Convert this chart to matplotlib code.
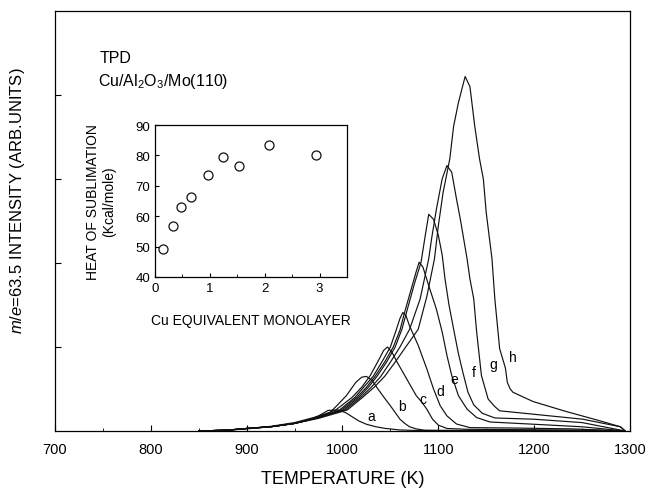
import numpy as np
import matplotlib
matplotlib.use("Agg")
import matplotlib.pyplot as plt

plt.rcParams['font.family'] = ['Liberation Sans', 'DejaVu Sans']
plt.rcParams['mathtext.fontset'] = 'custom'
plt.rcParams['mathtext.rm'] = 'Liberation Sans'
plt.rcParams['mathtext.it'] = 'Liberation Sans:italic'

# TPD spectra, m/e = 63.5 (T in K, intensity arb.)
T_a = [850, 880, 900, 925, 950, 965, 975, 985, 995, 1003, 1010, 1017, 1025, 1035, 1045, 1060, 1080, 1120, 1200, 1295]
I_a = [0.0, 0.01, 0.025, 0.05, 0.09, 0.13, 0.18, 0.245, 0.25, 0.22, 0.17, 0.12, 0.08, 0.05, 0.03, 0.012, 0.005, 0.003, 0.002, 0.0]

T_b = [850, 880, 900, 925, 950, 970, 987, 994, 1004, 1014, 1020, 1025, 1031, 1037, 1044, 1050, 1055, 1060, 1065,
       1070, 1077, 1085, 1100, 1150, 1220, 1295]
I_b = [0.0, 0.01, 0.03, 0.055, 0.1, 0.16, 0.22, 0.30, 0.42, 0.58, 0.64, 0.65, 0.6, 0.5, 0.39, 0.30, 0.22, 0.14, 0.09,
       0.05, 0.025, 0.01, 0.008, 0.006, 0.004, 0.0]

T_c = [850, 880, 900, 925, 950, 975, 993, 1010, 1020, 1029, 1038, 1043, 1047, 1052, 1057, 1063, 1069, 1077, 1083,
       1088, 1094, 1100, 1109, 1130, 1200, 1260, 1295]
I_c = [0.0, 0.01, 0.03, 0.05, 0.09, 0.17, 0.25, 0.4, 0.52, 0.66, 0.85, 0.96, 1.0, 0.93, 0.82, 0.7, 0.58, 0.42, 0.34,
       0.26, 0.14, 0.07, 0.03, 0.02, 0.015, 0.01, 0.0]

T_d = [850, 880, 900, 925, 950, 975, 997, 1013, 1022, 1032, 1041, 1050, 1056, 1060, 1063, 1066, 1070, 1079, 1088,
       1095, 1102, 1109, 1119, 1133, 1180, 1240, 1295]
I_d = [0.0, 0.01, 0.03, 0.05, 0.09, 0.16, 0.25, 0.4, 0.52, 0.65, 0.82, 1.0, 1.2, 1.34, 1.41, 1.38, 1.25, 1.02, 0.74,
       0.5, 0.3, 0.18, 0.083, 0.04, 0.035, 0.025, 0.0]

T_e = [850, 880, 900, 925, 950, 975, 999, 1015, 1025, 1034, 1044, 1053, 1060, 1065, 1072, 1077, 1080, 1084, 1090,
       1098, 1104, 1109, 1114, 1121, 1130, 1140, 1154, 1200, 1250, 1295]
I_e = [0.0, 0.01, 0.03, 0.05, 0.09, 0.16, 0.25, 0.4, 0.52, 0.65, 0.82, 1.0, 1.2, 1.42, 1.7, 1.9, 2.01, 1.95, 1.73,
       1.45, 1.18, 0.9, 0.66, 0.42, 0.26, 0.16, 0.107, 0.08, 0.05, 0.0]

T_f = [850, 880, 900, 925, 950, 975, 1001, 1017, 1027, 1036, 1046, 1055, 1062, 1067, 1075, 1082, 1086, 1090, 1095,
       1100, 1104, 1107, 1111, 1116, 1121, 1126, 1131, 1137, 1146, 1159, 1200, 1250, 1295]
I_f = [0.0, 0.01, 0.03, 0.05, 0.09, 0.16, 0.25, 0.4, 0.52, 0.65, 0.82, 1.0, 1.21, 1.42, 1.75, 2.01, 2.3, 2.58, 2.52,
       2.33, 2.1, 1.81, 1.51, 1.21, 0.92, 0.68, 0.46, 0.31, 0.21, 0.155, 0.14, 0.1, 0.0]

T_g = [850, 880, 900, 925, 950, 975, 1003, 1019, 1030, 1040, 1050, 1060, 1070, 1081, 1090, 1093, 1098, 1104, 1109,
       1114, 1119, 1123, 1130, 1133, 1137, 1140, 1145, 1152, 1159, 1164, 1199, 1251, 1290, 1295]
I_g = [0.0, 0.01, 0.03, 0.05, 0.09, 0.16, 0.25, 0.4, 0.52, 0.65, 0.82, 1.0, 1.21, 1.57, 2.05, 2.29, 2.64, 3.0, 3.16,
       3.08, 2.76, 2.52, 2.05, 1.81, 1.57, 1.18, 0.66, 0.38, 0.29, 0.24, 0.2, 0.14, 0.05, 0.0]

T_h = [850, 880, 900, 925, 950, 975, 1005, 1021, 1033, 1044, 1055, 1066, 1079, 1088, 1096, 1100, 1105, 1112, 1116,
       1121, 1128, 1133, 1138, 1143, 1147, 1150, 1156, 1159, 1164, 1170, 1172, 1175, 1178, 1199, 1234, 1269, 1290, 1295]
I_h = [0.0, 0.01, 0.03, 0.05, 0.09, 0.15, 0.25, 0.4, 0.52, 0.65, 0.82, 1.0, 1.21, 1.6, 2.05, 2.44, 2.84, 3.24, 3.63,
       3.91, 4.22, 4.1, 3.63, 3.24, 3.0, 2.6, 2.05, 1.57, 0.98, 0.75, 0.58, 0.5, 0.46, 0.35, 0.23, 0.12, 0.05, 0.0]

curve_T = [T_a, T_b, T_c, T_d, T_e, T_f, T_g, T_h]
curve_I = [I_a, I_b, I_c, I_d, I_e, I_f, I_g, I_h]
curve_names = ['a', 'b', 'c', 'd', 'e', 'f', 'g', 'h']
label_T = [1030, 1062, 1084, 1102, 1117, 1137, 1157, 1178]
label_I = [0.18, 0.30, 0.38, 0.48, 0.62, 0.70, 0.80, 0.88]

# inset: heat of sublimation vs coverage
cov = [0.15, 0.32, 0.48, 0.65, 0.97, 1.24, 1.53, 2.08, 2.93]
heat = [49.2, 56.9, 62.9, 66.2, 73.6, 79.4, 76.6, 83.4, 80.1]

fig = plt.figure(figsize=(6.46, 4.89), dpi=100)
ax = fig.add_axes([0.0851, 0.1166, 0.8901, 0.8589])

for T, I in zip(curve_T, curve_I):
    ax.plot(T, I, color='#111111', lw=0.85)
for name, tx, ty in zip(curve_names, label_T, label_I):
    ax.text(tx, ty, name, fontsize=10, ha='center', va='center')

ax.set_xlim(700, 1300)
ax.set_ylim(0, 5.0)
ax.set_xticks([700, 800, 900, 1000, 1100, 1200, 1300])
ax.set_xticks(np.arange(750, 1300, 100), minor=True)
ax.set_yticks([1, 2, 3, 4])
ax.set_yticklabels([])
ax.tick_params(direction='in', length=4, labelsize=10.5, pad=8)
ax.tick_params(which='minor', direction='in', length=2)
ax.set_xlabel('TEMPERATURE (K)', fontsize=13, labelpad=10)
ax.set_ylabel('$m/e$=63.5 INTENSITY (ARB.UNITS)', fontsize=12)
ax.yaxis.set_label_coords(-0.048, 0.55)
for s in ax.spines.values():
    s.set_linewidth(0.9)

ax.text(747, 4.45, 'TPD', fontsize=11.5, va='center')
ax.text(745, 4.17, 'Cu/Al$_2$O$_3$/Mo(110)', fontsize=11.5, va='center')

ins = fig.add_axes([0.2399, 0.4315, 0.2972, 0.3108])
ins.plot(cov, heat, 'o', mfc='white', mec='#111111', ms=6.5, mew=0.9)
ins.set_xlim(0, 3.5)
ins.set_ylim(40, 90)
ins.set_xticks([0, 1, 2, 3])
ins.set_yticks([40, 50, 60, 70, 80, 90])
ins.set_xticks([0.5, 1.5, 2.5], minor=True)
ins.tick_params(direction='in', length=3, labelsize=9.5)
ins.tick_params(which='minor', direction='in', length=2)
ins.set_xlabel('Cu EQUIVALENT MONOLAYER', fontsize=10, labelpad=14)
ins.set_ylabel('HEAT OF SUBLIMATION\n(Kcal/mole)', fontsize=10, labelpad=14)
for s in ins.spines.values():
    s.set_linewidth(0.9)

fig.savefig('out.png', dpi=100)
